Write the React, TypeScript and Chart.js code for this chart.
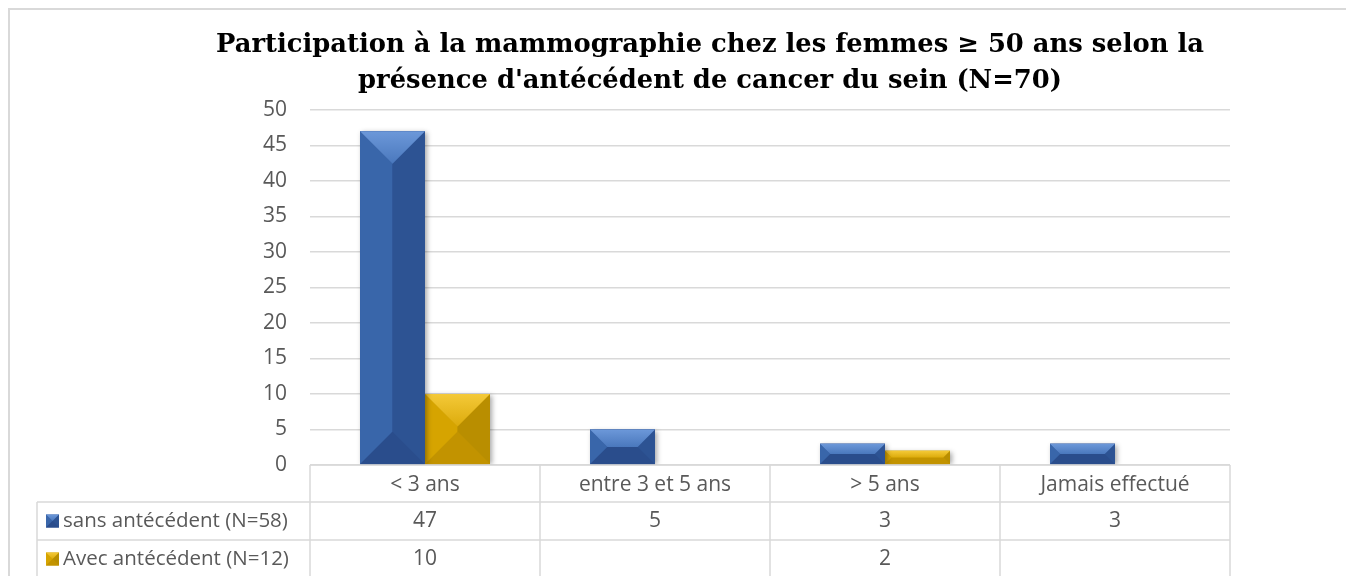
import React, { useEffect, useRef } from 'react';
import { Chart, registerables } from 'chart.js';

Chart.register(...registerables);

// ---------- data ----------
const categories = ['< 3 ans', 'entre 3 et 5 ans', '> 5 ans', 'Jamais effectué'];
const seriesNames = ['sans antécédent (N=58)', 'Avec antécédent (N=12)'];
const sansAntecedent: (number | null)[] = [47, 5, 3, 3];
const avecAntecedent: (number | null)[] = [10, null, 2, null];
const titleLines = [
  'Participation à la mammographie chez les femmes ≥ 50 ans selon la',
  "présence d'antécédent de cancer du sein (N=70)",
];
const yMin = 0;
const yMax = 50;
const yStep = 5;

// ---------- styles ----------
const FONT = "'Open Sans', 'Liberation Sans', sans-serif";
const TITLE_FONT = "bold 25.8px 'DejaVu Serif', 'Liberation Serif', serif";
const TEXT_COLOR = '#595959';
const LINE_COLOR = '#d9d9d9';

type Palette = { base: string; top: [string, string]; left: string; right: string; bottom: string };
const palettes: Palette[] = [
  { base: '#2f5597', top: ['#6c98d9', '#4a78bd'], left: '#3966aa', right: '#2d5393', bottom: '#2a4d8c' },
  { base: '#c99a00', top: ['#f4c938', '#dcab0c'], left: '#d6a400', right: '#b98e00', bottom: '#c29300' },
];

function poly(ctx: CanvasRenderingContext2D, pts: number[][], fill: string | CanvasGradient) {
  ctx.beginPath();
  ctx.moveTo(pts[0][0], pts[0][1]);
  for (let i = 1; i < pts.length; i++) ctx.lineTo(pts[i][0], pts[i][1]);
  ctx.closePath();
  ctx.fillStyle = fill;
  ctx.fill();
}

function drawBevel(ctx: CanvasRenderingContext2D, L: number, T: number, R: number, B: number, p: Palette) {
  const w = R - L;
  const h = B - T;
  if (w <= 0 || h <= 0) return;
  const b = Math.min(w / 2, h / 2);
  ctx.save();
  ctx.fillStyle = p.base;
  ctx.fillRect(L, T, w, h);
  poly(ctx, [[L, T], [L + b, T + b], [L + b, B - b], [L, B]], p.left);
  poly(ctx, [[R, T], [R - b, T + b], [R - b, B - b], [R, B]], p.right);
  poly(ctx, [[L, B], [L + b, B - b], [R - b, B - b], [R, B]], p.bottom);
  const g = ctx.createLinearGradient(0, T, 0, T + b);
  g.addColorStop(0, p.top[0]);
  g.addColorStop(1, p.top[1]);
  poly(ctx, [[L, T], [R, T], [R - b, T + b], [L + b, T + b]], g);
  ctx.restore();
}

const bevelPlugin = {
  id: 'bevelBars',
  beforeDatasetDraw(chart: any) {
    const ctx = chart.ctx;
    ctx.save();
    ctx.shadowColor = 'rgba(0,0,0,0.35)';
    ctx.shadowBlur = 5;
    ctx.shadowOffsetX = 2;
    ctx.shadowOffsetY = 1;
  },
  afterDatasetDraw(chart: any, args: any) {
    const ctx = chart.ctx;
    ctx.restore();
    const p = palettes[args.index];
    args.meta.data.forEach((el: any) => {
      const { x, y, base, width } = el.getProps(['x', 'y', 'base', 'width'], true);
      if (y == null || isNaN(y)) return;
      const T = Math.min(y, base);
      const B = Math.max(y, base);
      if (B - T < 0.5) return;
      drawBevel(ctx, x - width / 2, T, x + width / 2, B, p);
    });
  },
};

const titlePlugin = {
  id: 'customTitle',
  afterDraw(chart: any) {
    const ctx: CanvasRenderingContext2D = chart.ctx;
    ctx.save();
    ctx.font = TITLE_FONT;
    ctx.fillStyle = '#000000';
    ctx.textAlign = 'center';
    ctx.textBaseline = 'middle';
    const cx = chart.width / 2;
    titleLines.forEach((t, i) => ctx.fillText(t, cx, 37 + i * 36));
    ctx.restore();
  },
};

const tablePlugin = {
  id: 'dataTable',
  afterDraw(chart: any) {
    const ctx: CanvasRenderingContext2D = chart.ctx;
    const area = chart.chartArea;
    const xs = chart.scales.x;
    const n = categories.length;
    const catW = (area.right - area.left) / n;
    const headerTop = area.bottom;
    const headerBottom = headerTop + 37;
    const row1Bottom = headerBottom + 38;
    const row2Bottom = row1Bottom + 38;
    const legendLeft = 29;

    ctx.save();
    ctx.strokeStyle = LINE_COLOR;
    ctx.lineWidth = 2;
    ctx.beginPath();
    ctx.moveTo(1, chart.height);
    ctx.lineTo(1, 1);
    ctx.lineTo(chart.width, 1);
    ctx.stroke();

    ctx.lineWidth = 1.5;
    ctx.beginPath();
    ctx.moveTo(area.left, headerTop);
    ctx.lineTo(area.right, headerTop);
    [headerBottom, row1Bottom, row2Bottom].forEach((yy) => {
      ctx.moveTo(legendLeft, yy);
      ctx.lineTo(area.right, yy);
    });
    for (let i = 0; i <= n; i++) {
      const cx = i < n ? xs.getPixelForValue(i) - catW / 2 : xs.getPixelForValue(n - 1) + catW / 2;
      ctx.moveTo(cx, headerTop);
      ctx.lineTo(cx, row2Bottom);
    }
    ctx.moveTo(legendLeft, headerBottom);
    ctx.lineTo(legendLeft, row2Bottom);
    ctx.stroke();

    ctx.fillStyle = TEXT_COLOR;
    ctx.font = `21px ${FONT}`;
    ctx.textBaseline = 'middle';
    ctx.textAlign = 'center';
    const hy = (headerTop + headerBottom) / 2 + 1.5;
    const r1 = (headerBottom + row1Bottom) / 2;
    const r2 = (row1Bottom + row2Bottom) / 2;
    categories.forEach((c, i) => {
      const cx = xs.getPixelForValue(i);
      ctx.fillText(c, cx, hy);
      const v1 = sansAntecedent[i];
      const v2 = avecAntecedent[i];
      if (v1 != null) ctx.fillText(String(v1), cx, r1);
      if (v2 != null) ctx.fillText(String(v2), cx, r2);
    });
    ctx.textAlign = 'left';
    [r1, r2].forEach((ry, k) => {
      const sq = 13;
      drawBevel(ctx, 38, ry - sq / 2, 38 + sq, ry + sq / 2, palettes[k]);
      ctx.fillStyle = TEXT_COLOR;
      ctx.font = `20.5px ${FONT}`;
      ctx.fillText(seriesNames[k], 55, ry);
    });
    ctx.restore();
  },
};

export default function App() {
  const ref = useRef<HTMLCanvasElement | null>(null);
  useEffect(() => {
    if (!ref.current) return;
    const chart = new Chart(ref.current, {
      type: 'bar',
      data: {
        labels: categories,
        datasets: [
          { label: seriesNames[0], data: sansAntecedent, backgroundColor: palettes[0].base, borderWidth: 0 },
          { label: seriesNames[1], data: avecAntecedent, backgroundColor: palettes[1].base, borderWidth: 0 },
        ],
      },
      options: {
        responsive: false,
        animation: false,
        devicePixelRatio: 1,
        layout: { padding: { left: 0, right: 182, top: 102, bottom: 143 } },
        datasets: { bar: { categoryPercentage: 0.565, barPercentage: 1 } },
        scales: {
          x: { display: false },
          y: {
            min: yMin,
            max: yMax,
            border: { display: false },
            grid: { color: LINE_COLOR, lineWidth: 1.5, drawTicks: false },
            ticks: { stepSize: yStep, padding: 23, color: TEXT_COLOR, font: { family: FONT, size: 21 } },
            afterFit: (s: any) => {
              s.width = 302;
            },
          },
        },
        plugins: {
          legend: { display: false },
          tooltip: { enabled: false },
          title: { display: false },
        },
      } as any,
      plugins: [bevelPlugin, tablePlugin, titlePlugin],
    });
    return () => chart.destroy();
  }, []);
  return (
    <div style={{ position: 'fixed', left: 8, top: 8, width: 1338, height: 568, overflow: 'hidden' }}>
      <canvas ref={ref} width={1404} height={600} style={{ display: 'block', width: 1404, height: 600 }} />
    </div>
  );
}
